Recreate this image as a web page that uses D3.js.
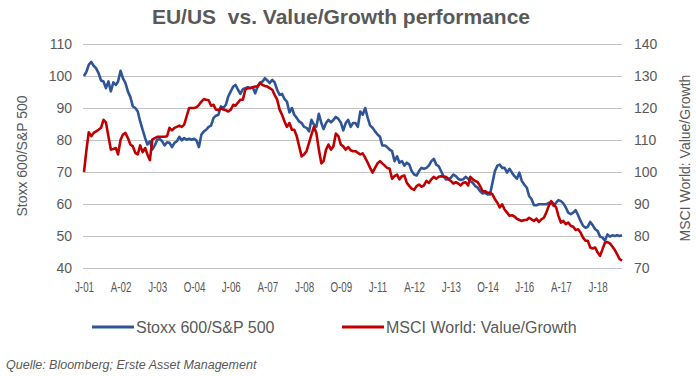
<!DOCTYPE html>
<html>
<head>
<meta charset="utf-8">
<script src="https://cdn.jsdelivr.net/npm/d3@7"></script>
<style>
body { margin: 0; background: #fff; }
text { font-family: "Liberation Sans", Arial, sans-serif; fill: #595959; }
</style>
</head>
<body>
<div id="chart-area"></div>
<script>
// monthly values, Jan 2001 .. May 2019
var stoxxSp = [
	100, 101.4, 103.5, 104.4, 103.2, 102.4, 100.9, 98.6, 98.3, 96.2,
	98.3, 95.2, 98.0, 97.2, 98.3, 101.6, 99.3, 97.8, 95.2, 93.4,
	90.5, 90, 88.9, 85.8, 83.2, 80.6, 78.6, 79.6, 77, 78.3,
	80.1, 80.3, 79.6, 78.3, 79.3, 79.1, 77.8, 79.1, 79.6, 81,
	79.9, 80.6, 80.1, 80.4, 80.1, 80.4, 79.8, 77.8, 81.7, 82.7,
	83.2, 84.1, 84.5, 86.9, 87.6,
	87.9, 90.5, 90, 91, 93.6, 95.2, 96.7, 97.2, 95.7, 94.4,
	95.9, 96.2, 96.5, 96.2, 96.5, 94.6, 96.7, 98, 98.3, 99.3,
	98.6, 97.8, 98.8, 98, 95.7, 94.1, 94.4, 92.8, 92, 88.6,
	90, 87.9, 86.9, 85.8, 85.3, 84.1, 83.8, 82.7, 86.3, 84.8,
	84.1, 88.2, 85.3, 83.4, 85.3, 86.3, 85.5, 86.3, 87.2, 86.6,
	85.5, 83, 85.3, 86.3, 84.1, 85.3,
	85.3, 84.1, 88.9, 87.9, 90, 86.9, 84.5, 83.8, 82.7, 81.7,
	81, 78.3, 78.3, 77.8, 77, 76.5, 73.4, 74.9, 72.9, 73.4,
	72, 72.9, 72.3, 70.3, 69.2, 68.9, 70.3, 71.3, 71, 71.3,
	72, 73.4, 74.1, 72.3, 71.8, 70.3, 68.7, 67.7, 67.7, 68.2,
	69.2, 68.7, 67.9, 67.5, 67.7, 68.5, 67.9, 67.2, 66.6, 65.6,
	65.1, 64, 63.3, 63.5, 63,
	63, 66.6, 70.3, 72, 72.3, 71.3, 71.3, 69.8, 71, 69.8,
	68.7, 67.9, 69.8, 67.2, 66.1, 65.1, 62.5, 61.5, 59.6, 59.6,
	59.9, 59.9, 59.9, 59.9, 60.4, 60.4, 59.4, 60.4, 61.2, 60.9,
	60.2, 58.9, 57.3, 56.8, 57.3, 58.1, 56.5, 54.7, 53.2, 52.6,
	52.9, 54.4, 53.4, 52.1, 51.6, 49.8, 49.5, 48.5, 50.5, 49.8,
	50.2, 50, 50.2, 50, 50.2
]

var msciVg = [
	100, 107, 112.4, 111.2, 112.2, 112.7, 113.2, 113.8, 116.3, 115.5,
	111.2, 107, 107.2, 107.5, 105.5, 110.1, 111.7, 112.2, 110.6, 108.6,
	108, 106, 105.5, 108.3, 106.2, 107.5, 105.5, 103.7, 110.1, 110.6,
	111, 111, 111, 111, 111.2, 113.8, 113, 113.8, 114.1, 114.5,
	114.1, 114.8, 117.4, 120, 120, 120, 120.2, 121, 122, 122.8,
	122.6, 122.4, 120.7, 121, 119.5,
	119.3, 120, 119.5, 119.3, 118.9, 119.5, 121, 120.7, 121.7, 122.6,
	122.6, 125.7, 126.2, 126.2, 126.5, 126.7, 126.7, 127.8, 127.2, 126.9,
	126.7, 126.2, 125.7, 124.1, 122.6, 119.5, 117.9, 115.8, 114.1, 115.3,
	113.2, 113.2, 111.2, 108, 104.9, 105.5, 106.5, 109.1, 111.7, 114.1,
	112.2, 107, 102.7, 103.4, 107, 108.6, 107, 108, 112, 111.2,
	108.6, 108, 107, 107.8, 106.8, 106.5,
	106.5, 106, 105.5, 105.8, 104.4, 102.9, 101.3, 99.8, 101.3, 102.7,
	103.4, 102.7, 102, 101.3, 101, 97.9, 98.7, 99.2, 97.7, 98.7,
	98.9, 96.6, 95.6, 94.8, 94.4, 95.6, 96.1, 95.4, 95.8, 97.2,
	96.6, 97.7, 98.5, 97.9, 98.5, 98.7, 98.5, 98.5, 97.9, 97.2,
	96.4, 96.8, 96.4, 95.8, 96.6, 96.8, 95.8, 98.5, 97.7, 97.2,
	96.8, 95.6, 94, 94, 93.5,
	93.5, 93, 91.5, 90.4, 88.9, 89.9, 88.3, 87.3, 86.3, 86.5,
	86.1, 85.4, 85, 84.7, 85, 85, 85.7, 85.2, 84.7, 85.4,
	84.4, 85.2, 85.7, 87.3, 89.4, 90.9, 89.9, 88.9, 86.3, 84.2,
	84.7, 83.7, 84.2, 83.2, 82.9, 81.9, 82.1, 81.1, 79.5, 78.5,
	78.5, 76.4, 76.1, 76.4, 74.9, 73.8, 75.9, 77.9, 78.1, 77.7,
	76.7, 75.6, 74.3, 72.8, 72.3
]

var startMonth = new Date(2001, 0, 1)
var xTickLabels = ["J-01", "A-02", "J-03", "O-04", "J-06", "A-07", "J-08", "O-09",
	"J-11", "A-12", "J-13", "O-14", "J-16", "A-17", "J-18"]
var leftTicks = [40, 50, 60, 70, 80, 90, 100, 110]
var rightTicks = [70, 80, 90, 100, 110, 120, 130, 140]
var seriesNames = ["Stoxx 600/S&P 500", "MSCI World: Value/Growth"]
var seriesColors = ["#2f5597", "#c00000"]

var m = {l: 84, t: 44, r: 74, b: 108}
var cw = 696
var ch = 376
var w = cw - m.l - m.r
var h = ch - m.t - m.b

var svg = d3.select("#chart-area").append("svg")
	.attr("width", cw)
	.attr("height", ch)

var g = svg.append("g").attr("transform", "translate(" + m.l + ", " + m.t + ")")

var months = stoxxSp.map((d, i) => d3.timeMonth.offset(startMonth, i))

var x = d3.scaleTime()
	.domain([months[0], months[months.length - 1]])
	.range([0, w])

var yL = d3.scaleLinear().domain([40, 110]).range([h, 0])
var yR = d3.scaleLinear().domain([70, 140]).range([h, 0])

// gridlines
g.selectAll(".grid")
	.data(leftTicks)
	.enter().append("line")
	.attr("class", "grid")
	.attr("x1", -1)
	.attr("x2", w)
	.attr("y1", d => Math.round(yL(d)) + 0.5)
	.attr("y2", d => Math.round(yL(d)) + 0.5)
	.attr("stroke", "#c3c3c3")
	.attr("stroke-width", 1)

// axes
var bottomAxis = d3.axisBottom(x)
	.tickValues(xTickLabels.map((d, i) => d3.timeMonth.offset(startMonth, i * 15)))
	.tickFormat((d, i) => xTickLabels[i])
	.tickSize(0)
	.tickPadding(14)

var xAxisGroup = g.append("g")
	.attr("transform", "translate(0, " + h + ")")
	.call(bottomAxis)
xAxisGroup.selectAll("text")
	.attr("font-size", "14px")
	.attr("transform", "scale(0.7,1)")

var yAxisGroup = g.append("g")
	.call(d3.axisLeft(yL).tickValues(leftTicks).tickSize(0).tickPadding(12))

var y2AxisGroup = g.append("g")
	.attr("transform", "translate(" + w + ", 0)")
	.call(d3.axisRight(yR).tickValues(rightTicks).tickSize(0).tickPadding(12))

svg.selectAll(".domain").remove()
yAxisGroup.selectAll("text").attr("font-size", "14px")
y2AxisGroup.selectAll("text").attr("font-size", "14px")
svg.selectAll(".tick text").attr("font-family", null).attr("fill", "#595959")

// axis titles
svg.append("text")
	.attr("transform", "translate(27, 156) rotate(-90)")
	.attr("text-anchor", "middle")
	.attr("font-size", "14px")
	.text("Stoxx 600/S&P 500")

svg.append("text")
	.attr("transform", "translate(690, 158) rotate(-90)")
	.attr("text-anchor", "middle")
	.attr("font-size", "14px")
	.text("MSCI World: Value/Growth")

// lines
var lineL = d3.line().x((d, i) => x(months[i])).y(d => yL(d))
var lineR = d3.line().x((d, i) => x(months[i])).y(d => yR(d))

g.append("path")
	.datum(stoxxSp)
	.attr("d", lineL)
	.attr("fill", "none")
	.attr("stroke", seriesColors[0])
	.attr("stroke-width", 2.6)
	.attr("stroke-linejoin", "round")

g.append("path")
	.datum(msciVg)
	.attr("d", lineR)
	.attr("fill", "none")
	.attr("stroke", seriesColors[1])
	.attr("stroke-width", 2.6)
	.attr("stroke-linejoin", "round")

// title
svg.append("text")
	.attr("x", 341)
	.attr("y", 24)
	.attr("text-anchor", "middle")
	.attr("font-size", "21px")
	.attr("font-weight", "bold")
	.style("white-space", "pre")
	.text("EU/US  vs. Value/Growth performance")

// legend
var legendX = [92, 342]
var legend = svg.selectAll(".legend-item")
	.data(seriesNames)
	.enter().append("g")
	.attr("class", "legend-item")
	.attr("transform", (d, i) => "translate(" + legendX[i] + ", 327)")

legend.append("line")
	.attr("x1", 0).attr("x2", 42)
	.attr("y1", 0).attr("y2", 0)
	.attr("stroke", (d, i) => seriesColors[i])
	.attr("stroke-width", 3)

legend.append("text")
	.attr("x", 44)
	.attr("y", 5.5)
	.attr("font-size", "16px")
	.text(d => d)

// source
svg.append("text")
	.attr("x", 6)
	.attr("y", 369)
	.attr("font-size", "12.5px")
	.attr("font-style", "italic")
	.text("Quelle: Bloomberg; Erste Asset Management")
</script>
</body>
</html>
